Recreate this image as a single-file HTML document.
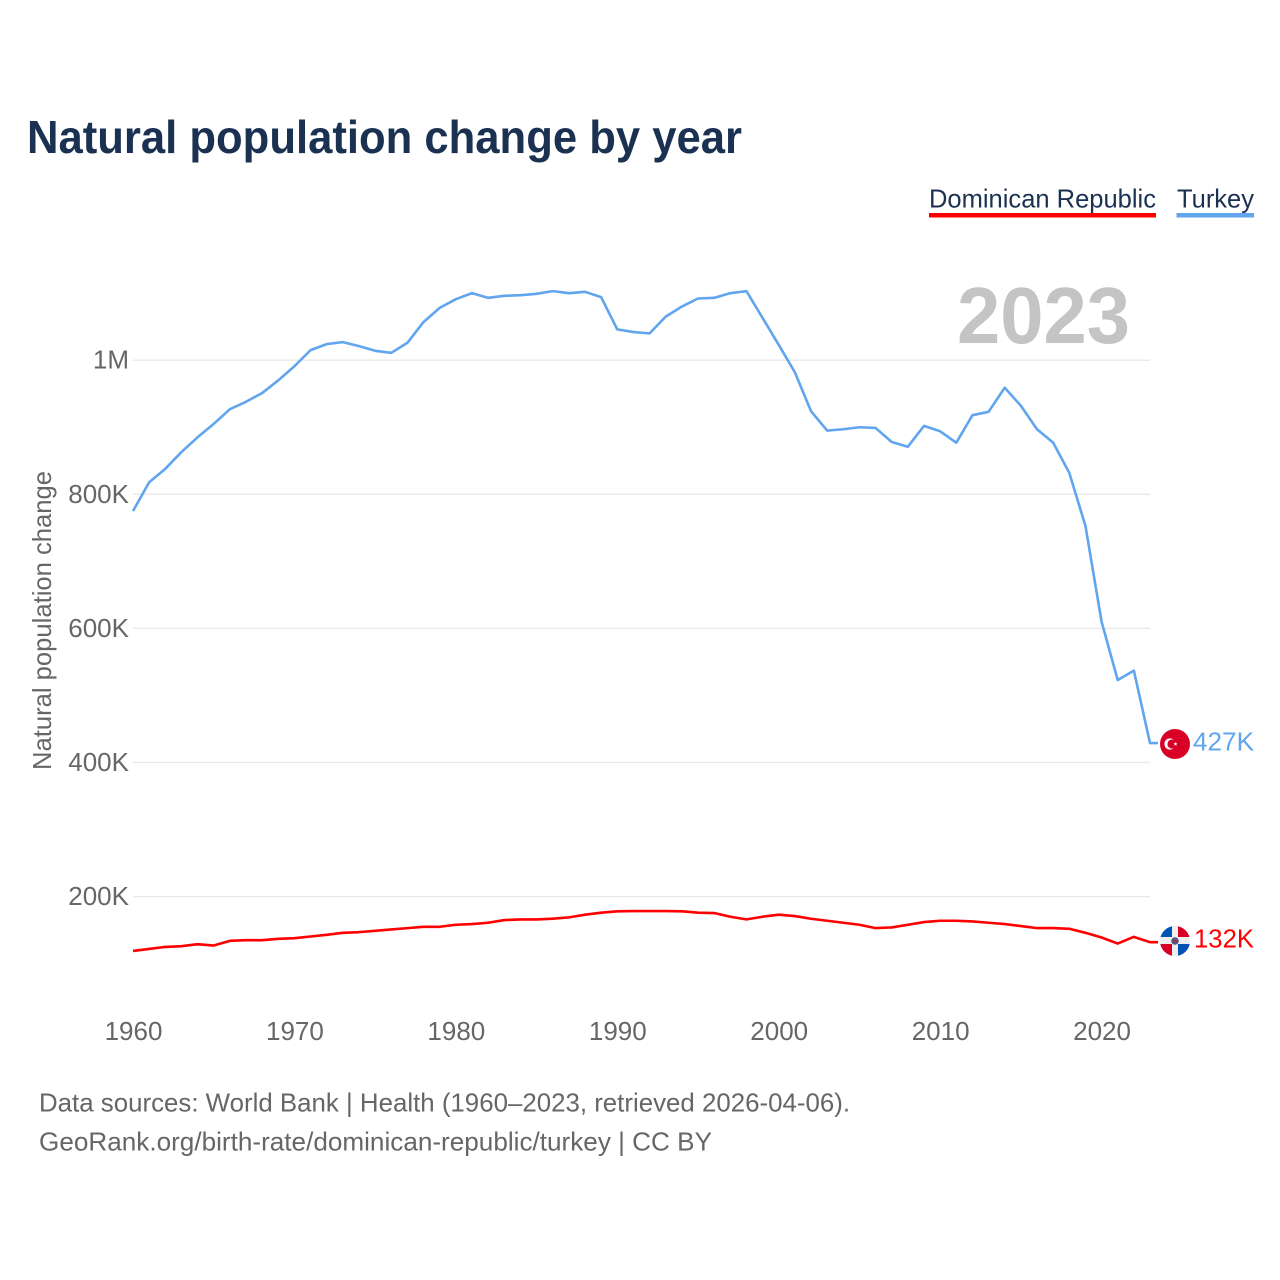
<!DOCTYPE html>
<html lang="en">
<head>
<meta charset="utf-8">
<title>Natural population change by year</title>
<style>
html,body{margin:0;padding:0;background:#fff;width:1280px;height:1280px;overflow:hidden}
svg{display:block;font-family:"Liberation Sans",sans-serif}
</style>
</head>
<body>
<svg id="chart" width="1280" height="1280" viewBox="0 0 1280 1280" xmlns="http://www.w3.org/2000/svg">
  <rect width="1280" height="1280" fill="#ffffff"/>
  <text x="27" y="153" font-size="46" font-weight="700" fill="#1a3152" textLength="715" lengthAdjust="spacingAndGlyphs">Natural population change by year</text>

  <g>
    <text x="929" y="207.5" font-size="26" fill="#1a3152" textLength="227" lengthAdjust="spacingAndGlyphs">Dominican Republic</text>
    <rect x="929" y="213" width="227" height="4.5" fill="#ff0000"/>
  </g>
  <g>
    <text x="1177" y="207.5" font-size="26" fill="#1a3152" textLength="77" lengthAdjust="spacingAndGlyphs">Turkey</text>
    <rect x="1176.5" y="213" width="77.5" height="4.5" fill="#60a5ee"/>
  </g>

  <g id="grid"></g>
  <g id="yticks"></g>
  <g id="xticks"></g>

  <text x="957" y="343" font-size="80" font-weight="700" fill="#c4c4c4" textLength="173" lengthAdjust="spacingAndGlyphs">2023</text>

  <text transform="translate(51 770) rotate(-90)" x="0" y="0" font-size="26" fill="#666666" textLength="299" lengthAdjust="spacingAndGlyphs">Natural population change</text>

  <g id="series"></g>

  <g>
    <circle cx="1175" cy="744" r="15" fill="#d80027"/>
    <circle cx="1170" cy="744" r="5.6" fill="#ffffff"/>
    <circle cx="1172" cy="744" r="4.6" fill="#d80027"/>
    <polygon points="1175.5,742 1176,743.3 1177.4,743.4 1176.3,744.4 1176.7,745.8 1175.5,745 1174.3,745.8 1174.7,744.4 1173.6,743.4 1175,743.3" fill="#ffffff"/>
  </g>
  <g>
    <clipPath id="dr-clip"><circle cx="1175" cy="941" r="15"/></clipPath>
    <g clip-path="url(#dr-clip)">
      <rect x="1160" y="926" width="30" height="30" fill="#eeeeee"/>
      <rect x="1160" y="926" width="12" height="11" fill="#0052b4"/>
      <rect x="1178" y="926" width="12" height="11" fill="#d80027"/>
      <rect x="1160" y="944" width="12" height="12" fill="#d80027"/>
      <rect x="1178" y="944" width="12" height="12" fill="#0052b4"/>
      <circle cx="1175" cy="941" r="3.8" fill="#4a5a8a"/>
      <circle cx="1175" cy="941" r="1.8" fill="#b02a4a"/>
    </g>
  </g>

  <text x="1193" y="750.5" font-size="26" fill="#60a5ee" textLength="61" lengthAdjust="spacingAndGlyphs">427K</text>
  <text x="1194" y="947.5" font-size="26" fill="#ff0000" textLength="60" lengthAdjust="spacingAndGlyphs">132K</text>

  <text x="39" y="1111.5" font-size="26" fill="#666666" textLength="811" lengthAdjust="spacingAndGlyphs">Data sources: World Bank | Health (1960–2023, retrieved 2026-04-06).</text>
  <text x="39" y="1150.5" font-size="26" fill="#666666" textLength="673" lengthAdjust="spacingAndGlyphs">GeoRank.org/birth-rate/dominican-republic/turkey | CC BY</text>
</svg>
<script>
const firstYear = 1960;
const turkeyValues = [775000,818000,838000,863000,885000,905000,927000,938000,951000,970000,991000,1015000,1024000,1027000,1021000,1014000,1011000,1026000,1057000,1078000,1091000,1100000,1093000,1096000,1097000,1099000,1103000,1100000,1102000,1094000,1046000,1042000,1040000,1065000,1080000,1092000,1093000,1100000,1103000,1063000,1023000,982000,924000,895000,897000,900000,899000,878000,871000,902000,894000,877000,918000,923000,959000,932000,897000,877000,832000,753000,610000,523000,537000,429000];
const dominicanValues = [119000,122000,125000,126000,129000,127000,134000,135000,135000,137000,138000,140500,143000,146000,147000,149000,151000,153000,155000,155000,158000,159000,161000,165000,166000,166000,167000,169000,173000,176000,178000,178500,178500,178500,178000,176000,175500,170000,166000,170000,173000,171000,167000,164000,161000,158000,153000,154000,158000,162000,164000,164000,163000,161000,159000,156000,153000,153000,152000,146000,139000,130000,140000,132000];
const yTickValues = [200000,400000,600000,800000,1000000];
const yTickLabels = ['200K','400K','600K','800K','1M'];
const xTickValues = [1960,1970,1980,1990,2000,2010,2020];

const NS = 'http://www.w3.org/2000/svg';
function xScale(year) { return 133 + (year - 1960) * (1150 - 133) / 63; }
function yScale(value) { return 896.6 - (value - 200000) * 134.1 / 200000; }

const grid = document.getElementById('grid');
const yticks = document.getElementById('yticks');
const xticks = document.getElementById('xticks');
const series = document.getElementById('series');

yTickValues.forEach(function (v, i) {
  const line = document.createElementNS(NS, 'line');
  
  
  line.setAttribute('x1', 133);
  line.setAttribute('x2', 1150);
  line.setAttribute('y1', yScale(v));
  line.setAttribute('y2', yScale(v));
  line.setAttribute('stroke', '#e8e8e8');
  line.setAttribute('stroke-width', '1.3');
  grid.appendChild(line);

  const t = document.createElementNS(NS, 'text');
  
  
  t.setAttribute('x', 129);
  t.setAttribute('y', yScale(v) + 8.5);
  t.setAttribute('text-anchor', 'end');
  t.setAttribute('font-size', '26');
  t.setAttribute('fill', '#666666');
  t.textContent = yTickLabels[i];
  yticks.appendChild(t);
});

xTickValues.forEach(function (year) {
  const t = document.createElementNS(NS, 'text');
  
  
  t.setAttribute('x', xScale(year) + 0.5);
  t.setAttribute('y', 1040);
  t.setAttribute('text-anchor', 'middle');
  t.setAttribute('font-size', '26');
  t.setAttribute('fill', '#666666');
  t.textContent = String(year);
  xticks.appendChild(t);
});

function linePath(values) {
  const pts = values.map(function (v, i) {
    return xScale(firstYear + i).toFixed(2) + ',' + yScale(v).toFixed(2);
  });
  const last = values[values.length - 1];
  pts.push('1158,' + yScale(last).toFixed(2));
  return pts.join(' ');
}

const dominicanLine = document.createElementNS(NS, 'polyline');


dominicanLine.setAttribute('points', linePath(dominicanValues));
dominicanLine.setAttribute('fill', 'none');
dominicanLine.setAttribute('stroke', '#ff0000');
dominicanLine.setAttribute('stroke-width', '2.6');
dominicanLine.setAttribute('stroke-linejoin', 'round');
series.appendChild(dominicanLine);

const turkeyLine = document.createElementNS(NS, 'polyline');


turkeyLine.setAttribute('points', linePath(turkeyValues));
turkeyLine.setAttribute('fill', 'none');
turkeyLine.setAttribute('stroke', '#60a5ee');
turkeyLine.setAttribute('stroke-width', '2.6');
turkeyLine.setAttribute('stroke-linejoin', 'round');
series.appendChild(turkeyLine);
</script>
</body>
</html>
